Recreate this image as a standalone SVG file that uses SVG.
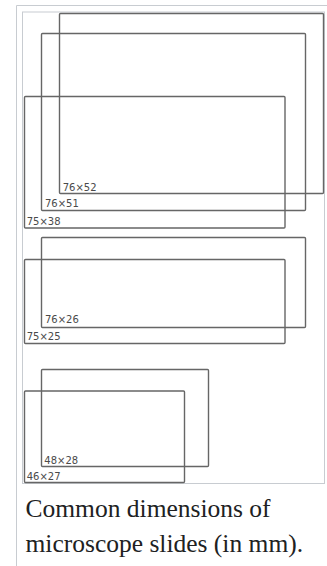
<svg xmlns="http://www.w3.org/2000/svg" width="327" height="566" viewBox="0 0 327 566">
<style>
.frame{fill:none;stroke:#c8ccd1;stroke-width:1}
.slide{fill:none;stroke:#666;stroke-width:1.4}
.lbl{font-family:"DejaVu Sans",sans-serif;font-size:10px;fill:#4a4a4a}
.cap{font-family:"Liberation Serif","Times New Roman",serif;font-size:25.5px;fill:#202122}
</style>
<rect width="327" height="566" fill="#fff"/>
<path class="frame" d="M16.5 566 V5.5 H327"/>
<rect class="frame" x="22.5" y="12" width="302" height="471.5"/>
<g id="s76x52"><rect class="slide" x="59.5" y="13.5" width="264" height="180" rx="1"/><text class="lbl" x="62.7" y="190.5">76×52</text></g>
<g id="s76x51"><rect class="slide" x="41.5" y="33.5" width="264" height="177" rx="1"/><text class="lbl" x="45" y="207.3">76×51</text></g>
<g id="s75x38"><rect class="slide" x="24.5" y="96.5" width="260.5" height="131.5" rx="1"/><text class="lbl" x="26.7" y="225">75×38</text></g>
<g id="s76x26"><rect class="slide" x="41.5" y="237.5" width="264" height="90" rx="1"/><text class="lbl" x="45" y="322.7">76×26</text></g>
<g id="s75x25"><rect class="slide" x="24.5" y="259.5" width="260.5" height="84" rx="1"/><text class="lbl" x="26.7" y="340">75×25</text></g>
<g id="s48x28"><rect class="slide" x="41.5" y="369.5" width="167" height="97" rx="1"/><text class="lbl" x="44.3" y="463.7">48×28</text></g>
<g id="s46x27"><rect class="slide" x="24.5" y="391" width="160" height="91.5" rx="1"/><text class="lbl" x="26.7" y="480">46×27</text></g>
<g id="caption">
<text class="cap" x="25.5" y="516.7">Common dimensions of</text>
<text class="cap" x="25.5" y="551.7">microscope slides (in mm).</text>
</g>
</svg>
